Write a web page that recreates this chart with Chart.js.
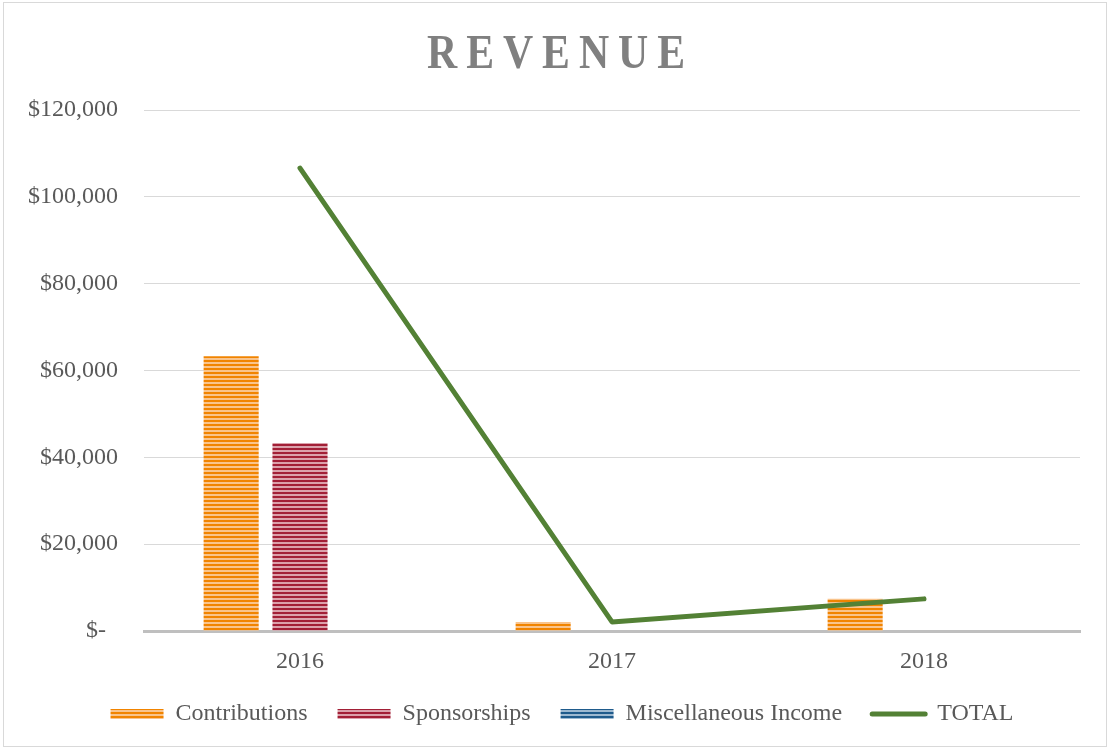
<!DOCTYPE html>
<html>
<head>
<meta charset="utf-8">
<script src="https://cdn.jsdelivr.net/npm/chart.js@4"></script>
<style>
  body { margin: 0; background: #fff; }
  #wrap { width: 1110px; height: 750px; }
</style>
</head>
<body>
<div id="wrap"><canvas id="revenueChart" width="1110" height="750"></canvas></div>
<script>
// chart data
const years = ['2016', '2017', '2018'];
const contributions = [63300, 2100, 7400];
const sponsorships = [43300, 0, 0];
const miscIncome = [0, 0, 0];
const totals = [106600, 2100, 7400];
const yTicks = [0, 20000, 40000, 60000, 80000, 100000, 120000];

const FONT = '"Liberation Serif", "Times New Roman", serif';
const TEXT = '#595959';

// horizontal stripe fill, like the Excel pattern
function stripes(dark, light) {
    const c = document.createElement('canvas');
    c.width = 4;
    c.height = 4;
    const g = c.getContext('2d');
    g.fillStyle = light;
    g.fillRect(0, 0, 4, 4);
    g.fillStyle = dark;
    g.fillRect(0, 0, 4, 2);
    return g.createPattern(c, 'repeat');
}

const orangeFill = stripes('#f18400', '#f9c48c');
const redFill = stripes('#a21f36', '#dba1ab');
const blueFill = stripes('#1f5b8c', '#9db9d1');

// legend in the reference is centred on the whole picture, not the plot
const legendShift = {
    id: 'legendShift',
    afterLayout(chart) {
        chart.legend.left += 21;
        chart.legend.right += 21;
    }
};

// title with letter spacing + outer frame
const decorations = {
    id: 'decorations',
    afterDraw(chart) {
        const ctx = chart.ctx;
        ctx.save();
        ctx.strokeStyle = '#d9d9d9';
        ctx.lineWidth = 1;
        ctx.strokeRect(3.5, 2.5, 1103, 744);

        // the title glyphs are taller than they are wide, so squeeze a bit
        const sx = 0.87;
        const spacing = 10.3;
        ctx.font = 'bold 48px ' + FONT;
        ctx.fillStyle = '#808080';
        ctx.textBaseline = 'alphabetic';
        ctx.textAlign = 'left';
        ctx.letterSpacing = spacing + 'px';
        const w = (ctx.measureText('REVENUE').width - spacing) * sx;
        ctx.translate(556 - w / 2, 67.5);
        ctx.scale(sx, 1);
        ctx.fillText('REVENUE', 0, 0);
        ctx.restore();
    }
};

const ctx = document.getElementById('revenueChart').getContext('2d');
const revenueChart = new Chart(ctx, {
    data: {
        labels: years,
        datasets: [{
            type: 'bar',
            label: 'Contributions',
            data: contributions,
            backgroundColor: orangeFill,
            borderWidth: 0,
            order: 2
        }, {
            type: 'bar',
            label: 'Sponsorships',
            data: sponsorships,
            backgroundColor: redFill,
            borderWidth: 0,
            order: 2
        }, {
            type: 'bar',
            label: 'Miscellaneous Income',
            data: miscIncome,
            backgroundColor: blueFill,
            borderWidth: 0,
            order: 2
        }, {
            type: 'line',
            label: 'TOTAL',
            data: totals,
            borderColor: '#538135',
            backgroundColor: '#538135',
            borderWidth: 5,
            borderCapStyle: 'round',
            borderJoinStyle: 'round',
            pointRadius: 0,
            tension: 0,
            order: 1
        }]
    },
    options: {
        responsive: false,
        animation: false,
        layout: {
            padding: { top: 110, left: 2, right: 30, bottom: 14 }
        },
        datasets: {
            bar: {
                categoryPercentage: 0.662,
                barPercentage: 0.8
            }
        },
        scales: {
            x: {
                offset: true,
                grid: { display: false, drawTicks: false },
                border: { display: true, color: '#bfbfbf', width: 3 },
                ticks: {
                    color: TEXT,
                    padding: 16,
                    font: { family: FONT, size: 24 }
                },
                afterFit(scale) {
                    scale.height = 41;
                }
            },
            y: {
                min: 0,
                max: 120000,
                afterBuildTicks(scale) {
                    scale.ticks = yTicks.map(v => ({ value: v }));
                },
                border: { display: false },
                grid: {
                    drawTicks: false,
                    color: '#d9d9d9',
                    lineWidth: 1
                },
                ticks: {
                    color: TEXT,
                    padding: 26,
                    font: { family: FONT, size: 24 },
                    callback: v => v === 0 ? '$-  ' : '$' + v.toLocaleString('en-US')
                }
            }
        },
        plugins: {
            title: { display: false },
            tooltip: { enabled: false },
            legend: {
                position: 'bottom',
                labels: {
                    usePointStyle: true,
                    pointStyleWidth: 53,
                    boxHeight: 10,
                    padding: 30,
                    color: TEXT,
                    font: { family: FONT, size: 24 },
                    generateLabels(chart) {
                        const items = Chart.defaults.plugins.legend.labels.generateLabels(chart);
                        items.sort((a, b) => a.datasetIndex - b.datasetIndex);
                        items.forEach(item => {
                            if (item.text === 'TOTAL') {
                                item.pointStyle = 'line';
                                item.lineWidth = 5;
                                item.lineCap = 'round';
                                item.strokeStyle = '#538135';
                            } else {
                                item.pointStyle = 'rect';
                                item.lineWidth = 0;
                            }
                        });
                        return items;
                    }
                }
            }
        }
    },
    plugins: [legendShift, decorations]
});
</script>
</body>
</html>
